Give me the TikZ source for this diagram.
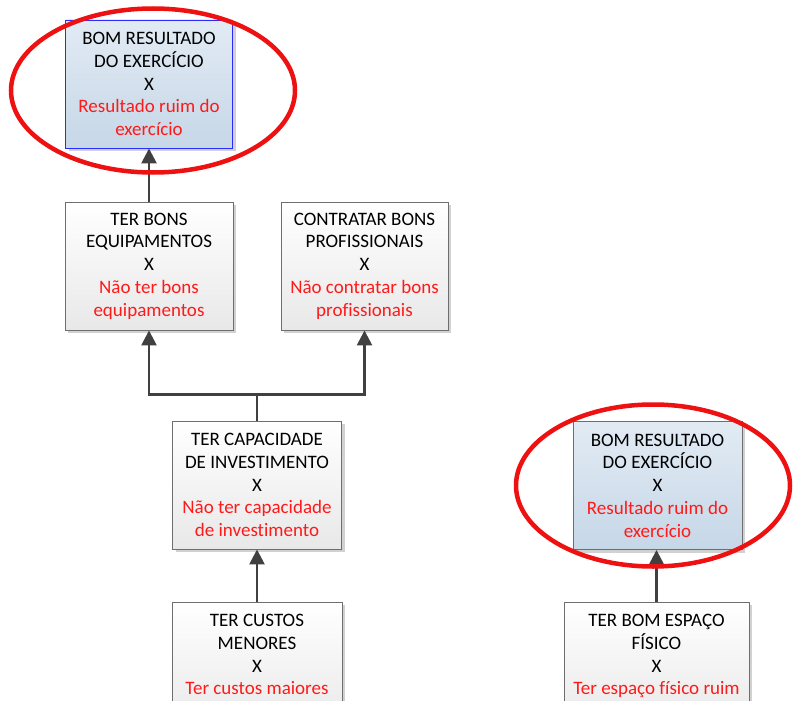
\documentclass[tikz,border=0pt]{standalone}
\usepackage{fontspec}
\setmainfont[Ligatures=NoCommon]{Carlito}
\usetikzlibrary{arrows.meta,shadows}
\definecolor{linegray}{HTML}{404040}
\definecolor{boxedge}{HTML}{6E6E6E}
\definecolor{redtxt}{HTML}{FF1A1A}
\definecolor{ringred}{HTML}{EE1111}
\definecolor{bluetop}{HTML}{E2EBF4}
\definecolor{bluebot}{HTML}{C6D7E7}
\definecolor{blueedge}{HTML}{2B2BFF}
\tikzset{
  goalbox/.style={rectangle, draw=boxedge, line width=0.9pt,
    top color=white, bottom color=black!9,
    minimum height=128pt, inner sep=0pt, align=center,
    font=\fontsize{19pt}{22.8pt}\selectfont,
    drop shadow={shadow xshift=3pt, shadow yshift=-3pt, fill=black!18, opacity=1}},
  resultbox/.style={goalbox, top color=bluetop, bottom color=bluebot},
  link/.style={draw=linegray, line width=2.6pt,
    -{Triangle[width=15pt,length=15pt]}},
  ring/.style={draw=ringred, line width=4.5pt}
}
\newcommand{\opp}[1]{\textcolor{redtxt}{#1}}
\begin{document}
\begin{tikzpicture}[x=1pt,y=-1pt]
\useasboundingbox (0,0) rectangle (793,701);

% left branch
\node[resultbox, draw=blueedge, minimum width=167pt] (res1) at (149,84)
  {BOM RESULTADO\\DO EXERCÍCIO\\X\\\opp{Resultado ruim do}\\\opp{exercício}};
\node[goalbox, minimum width=168pt] (equip) at (149,266)
  {TER BONS\\EQUIPAMENTOS\\X\\\opp{Não ter bons}\\\opp{equipamentos}};
\node[goalbox, minimum width=167pt] (prof) at (364.5,266)
  {CONTRATAR BONS\\PROFISSIONAIS\\X\\\opp{Não contratar bons}\\\opp{profissionais}};
\node[goalbox, minimum width=169pt] (invest) at (257,485)
  {TER CAPACIDADE\\DE INVESTIMENTO\\X\\\opp{Não ter capacidade}\\\opp{de investimento}};
\node[goalbox, minimum width=170pt] (custos) at (257,666)
  {TER CUSTOS\\MENORES\\X\\\opp{Ter custos maiores}\\\mbox{}};

% right branch
\node[resultbox, minimum width=169pt] (res2) at (657.5,485.5)
  {BOM RESULTADO\\DO EXERCÍCIO\\X\\\opp{Resultado ruim do}\\\opp{exercício}};
\node[goalbox, minimum width=185pt] (espaco) at (656.5,666)
  {TER BOM ESPAÇO\\FÍSICO\\X\\\opp{Ter espaço físico ruim}\\\mbox{}};

% connectors
\draw[link] (equip.north) -- (res1.south);
\draw[link] (invest.north) -- ++(0,-26) -| (equip.south);
\draw[link] (invest.north) -- ++(0,-26) -| (prof.south);
\draw[link] (custos.north) -- (invest.south);
\draw[link] (espaco.north) -- (espaco.north |- res2.south);

% highlight rings
\draw[ring] (153,90.5) ellipse [x radius=142pt, y radius=82pt];
\draw[ring] (653,485.5) ellipse [x radius=137pt, y radius=81pt];
\end{tikzpicture}
\end{document}
